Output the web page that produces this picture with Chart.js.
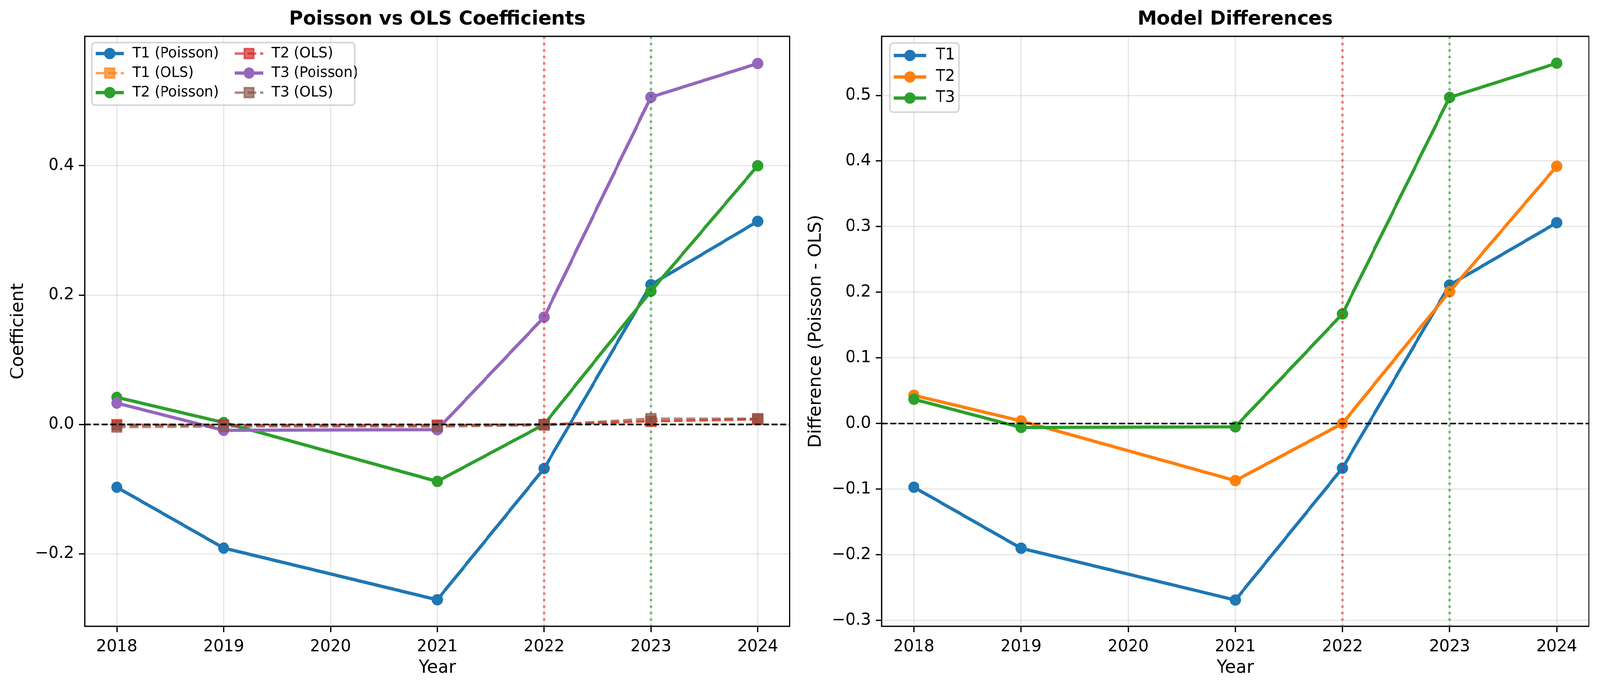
<!DOCTYPE html>
<html>
<head>
<meta charset="utf-8">
<script src="https://cdn.jsdelivr.net/npm/chart.js@4.4.1/dist/chart.umd.min.js"></script>
<style>
  html, body { margin: 0; padding: 0; background: #fff; overflow: hidden; }
  #stage { position: absolute; left: 0; top: 0; width: 4170px; height: 1766px; transform-origin: 0 0; }
  .panel { position: absolute; top: 0; height: 1766px; }
  #leftPanel { left: 0; width: 2080px; }
  #rightPanel { left: 2080px; width: 2090px; }
</style>
</head>
<body>
<div id="stage">
  <div class="panel" id="leftPanel"><canvas id="coefChart"></canvas></div>
  <div class="panel" id="rightPanel"><canvas id="diffChart"></canvas></div>
</div>
<script>
// data
const years = [2018, 2019, 2021, 2022, 2023, 2024];

const t1Poisson = [-0.097, -0.191, -0.271, -0.068, 0.216, 0.314];
const t1Ols = [0.000, -0.001, -0.002, 0.000, 0.005, 0.008];
const t2Poisson = [0.042, 0.003, -0.088, 0.000, 0.206, 0.400];
const t2Ols = [-0.001, -0.001, -0.001, 0.000, 0.005, 0.008];
const t3Poisson = [0.033, -0.009, -0.008, 0.166, 0.506, 0.558];
const t3Ols = [-0.004, -0.003, -0.003, -0.001, 0.009, 0.009];

const t1Diff = [-0.097, -0.190, -0.269, -0.068, 0.211, 0.306];
const t2Diff = [0.043, 0.004, -0.087, 0.000, 0.201, 0.392];
const t3Diff = [0.037, -0.006, -0.005, 0.167, 0.497, 0.549];

const yearTicks = [2018, 2019, 2020, 2021, 2022, 2023, 2024];
const coefTicks = [-0.2, 0.0, 0.2, 0.4];
const diffTicks = [-0.3, -0.2, -0.1, 0.0, 0.1, 0.2, 0.3, 0.4, 0.5];
const eventYears = [2022, 2023];

// the viewport may be narrower than 4170, so stretch the layout onto it
const sx = window.innerWidth / 4170;
const sy = window.innerHeight / 1766;
document.getElementById("stage").style.transform = `scale(${sx}, ${sy})`;

const FONT = "'DejaVu Sans', 'Liberation Sans', sans-serif";
Chart.defaults.font.family = FONT;
Chart.defaults.color = "#000";

const C = {
  blue: "#1f77b4", orange: "#ff7f0e", green: "#2ca02c",
  red: "#d62728", purple: "#9467bd", brown: "#8c564b",
};
const fade = (hex, a) => {
  const n = parseInt(hex.slice(1), 16);
  return `rgba(${n >> 16},${(n >> 8) & 255},${n & 255},${a})`;
};
const pts = (vals) => years.map((x, i) => ({ x, y: vals[i] }));

const poissonLine = (label, vals, color) => ({
  label, data: pts(vals),
  borderColor: color, backgroundColor: color,
  borderWidth: 8.3, borderJoinStyle: "round",
  pointStyle: "circle", pointRadius: 12.5, pointBorderWidth: 4,
  pointBackgroundColor: color, pointBorderColor: color,
  tension: 0,
});
const olsLine = (label, vals, color) => ({
  label, data: pts(vals),
  borderColor: fade(color, 0.7), backgroundColor: fade(color, 0.7),
  borderWidth: 6.25, borderDash: [23, 10],
  pointStyle: "rect", pointRadius: 17.7, pointBorderWidth: 4,
  pointBackgroundColor: fade(color, 0.7), pointBorderColor: fade(color, 0.7),
  tension: 0,
});

// vertical event lines + zero line, drawn over the data like axvline/axhline
const refLines = {
  id: "refLines",
  afterDatasetsDraw(chart) {
    const { ctx, chartArea: a, scales: { x, y } } = chart;
    ctx.save();
    ctx.beginPath();
    ctx.rect(a.left, a.top, a.right - a.left, a.bottom - a.top);
    ctx.clip();
    const vColors = ["rgba(255,0,0,0.5)", "rgba(0,128,0,0.5)"];
    eventYears.forEach((yr, i) => {
      const px = x.getPixelForValue(yr);
      ctx.setLineDash([6.25, 10.3]);
      ctx.lineWidth = 6.25;
      ctx.strokeStyle = vColors[i];
      ctx.beginPath();
      ctx.moveTo(px, a.top);
      ctx.lineTo(px, a.bottom);
      ctx.stroke();
    });
    const py = y.getPixelForValue(0);
    ctx.setLineDash([15.4, 6.7]);
    ctx.lineWidth = 4.2;
    ctx.strokeStyle = "#000";
    ctx.beginPath();
    ctx.moveTo(a.left, py);
    ctx.lineTo(a.right, py);
    ctx.stroke();
    ctx.restore();
  },
};

const frame = {
  id: "frame",
  afterDatasetsDraw(chart) {
    const { ctx, chartArea: a } = chart;
    ctx.save();
    ctx.lineWidth = 3.3;
    ctx.strokeStyle = "#000";
    ctx.strokeRect(a.left, a.top, a.right - a.left, a.bottom - a.top);
    ctx.restore();
  },
};

// matplotlib-style legend sitting inside the axes
const boxLegend = {
  id: "boxLegend",
  afterDraw(chart, args, opts) {
    const ctx = chart.ctx;
    const dsList = chart.data.datasets;
    ctx.save();
    ctx.beginPath();
    ctx.roundRect(opts.left, opts.top, opts.width, opts.height, 9);
    ctx.fillStyle = "rgba(255,255,255,0.8)";
    ctx.fill();
    ctx.lineWidth = 4;
    ctx.strokeStyle = "rgba(204,204,204,0.8)";
    ctx.stroke();

    ctx.font = `${opts.fontSize}px ${FONT}`;
    ctx.textBaseline = "middle";
    ctx.textAlign = "left";
    dsList.forEach((ds, i) => {
      const col = Math.floor(i / opts.rows.length);
      const hx = opts.cols[col];
      const hy = opts.rows[i % opts.rows.length];
      ctx.setLineDash(ds.borderDash || []);
      ctx.lineWidth = ds.borderWidth;
      ctx.strokeStyle = ds.borderColor;
      ctx.beginPath();
      ctx.moveTo(hx, hy);
      ctx.lineTo(hx + opts.handleLen, hy);
      ctx.stroke();
      ctx.setLineDash([]);
      const cx = hx + opts.handleLen / 2;
      ctx.fillStyle = ds.pointBackgroundColor;
      ctx.strokeStyle = ds.pointBorderColor;
      ctx.lineWidth = ds.pointBorderWidth;
      ctx.beginPath();
      if (ds.pointStyle === "rect") {
        const s = ds.pointRadius * Math.SQRT1_2;
        ctx.rect(cx - s, hy - s, 2 * s, 2 * s);
      } else {
        ctx.arc(cx, hy, ds.pointRadius, 0, Math.PI * 2);
      }
      ctx.fill();
      ctx.stroke();
      ctx.fillStyle = "#000";
      ctx.fillText(ds.label, hx + opts.textGap, hy);
    });
    ctx.restore();
  },
};

const fmt = (v) => (v < 0 ? "\u2212" : "") + Math.abs(v).toFixed(1);

const makeOptions = (cfg) => ({
  responsive: true,
  maintainAspectRatio: false,
  animation: false,
  layout: { padding: { left: 0, right: cfg.padRight, top: 0, bottom: 0 } },
  plugins: {
    legend: { display: false },
    tooltip: { enabled: false },
    title: {
      display: true, text: cfg.title, fullSize: false, color: "#000",
      font: { size: 50, weight: "bold", family: FONT },
      padding: { top: 20, bottom: 13 },
    },
    boxLegend: cfg.legend,
  },
  scales: {
    x: {
      type: "linear", min: 2017.7, max: 2024.3,
      afterBuildTicks: (s) => { s.ticks = yearTicks.map((v) => ({ value: v })); },
      afterFit: (s) => { s.height = 163; },
      ticks: { callback: (v) => String(v), font: { size: 42 }, color: "#000", padding: 13, autoSkip: false, maxRotation: 0 },
      grid: { color: "rgba(176,176,176,0.3)", lineWidth: 3.3, tickLength: 15, tickColor: "#000", tickWidth: 3.3 },
      border: { display: false },
      title: { display: true, text: "Year", font: { size: 46 }, color: "#000", padding: { top: 0, bottom: 28 } },
    },
    y: {
      type: "linear", min: cfg.yMin, max: cfg.yMax,
      afterBuildTicks: (s) => { s.ticks = cfg.yTicks.map((v) => ({ value: v })); },
      afterFit: (s) => { s.width = cfg.yWidth; },
      ticks: { callback: fmt, font: { size: 42 }, color: "#000", padding: 13, autoSkip: false },
      grid: { color: "rgba(176,176,176,0.3)", lineWidth: 3.3, tickLength: 15, tickColor: "#000", tickWidth: 3.3 },
      border: { display: false },
      title: { display: true, text: cfg.yLabel, font: { size: 46 }, color: "#000", padding: { top: cfg.yTitlePad, bottom: 0 } },
    },
  },
});

const coefSets = [
  poissonLine("T1 (Poisson)", t1Poisson, C.blue),
  olsLine("T1 (OLS)", t1Ols, C.orange),
  poissonLine("T2 (Poisson)", t2Poisson, C.green),
  olsLine("T2 (OLS)", t2Ols, C.red),
  poissonLine("T3 (Poisson)", t3Poisson, C.purple),
  olsLine("T3 (OLS)", t3Ols, C.brown),
];
coefSets.forEach((d, i) => { d.order = coefSets.length - i; });

const diffSets = [
  poissonLine("T1", t1Diff, C.blue),
  poissonLine("T2", t2Diff, C.orange),
  poissonLine("T3", t3Diff, C.green),
];
diffSets.forEach((d, i) => { d.order = diffSets.length - i; });

new Chart(document.getElementById("coefChart"), {
  type: "line",
  data: { datasets: coefSets },
  options: makeOptions({
    title: "Poisson vs OLS Coefficients",
    yLabel: "Coefficient",
    yMin: -0.312, yMax: 0.600, yTicks: coefTicks,
    yWidth: 221, yTitlePad: 20, padRight: 17,
    legend: {
      left: 239, top: 109, width: 685, height: 160, fontSize: 37,
      cols: [249, 612], rows: [137, 187, 237], handleLen: 74, textGap: 96,
    },
  }),
  plugins: [refLines, frame, boxLegend],
});

new Chart(document.getElementById("diffChart"), {
  type: "line",
  data: { datasets: diffSets },
  options: makeOptions({
    title: "Model Differences",
    yLabel: "Difference (Poisson - OLS)",
    yMin: -0.309, yMax: 0.590, yTicks: diffTicks,
    yWidth: 218, yTitlePad: 19, padRight: 29,
    legend: {
      left: 239, top: 110, width: 180, height: 177, fontSize: 40,
      cols: [249], rows: [142, 197, 251], handleLen: 85, textGap: 110,
    },
  }),
  plugins: [refLines, frame, boxLegend],
});
</script>
</body>
</html>
